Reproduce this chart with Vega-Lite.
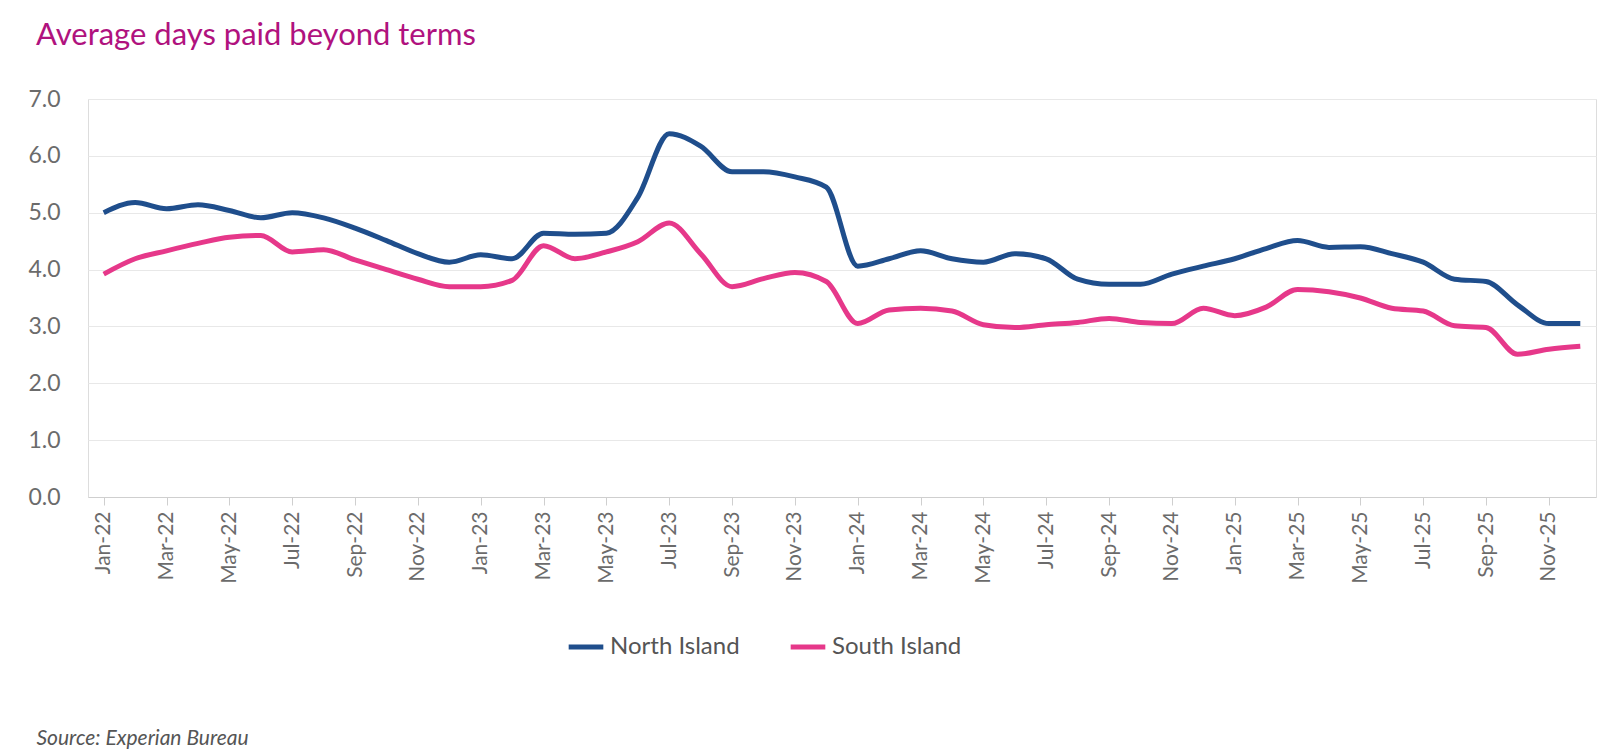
{
"$schema":"https://vega.github.io/schema/vega-lite/v6.json",
"width":1508,"height":398,
"autosize":{"type":"none"},
"padding":{"left":88,"top":99,"right":10,"bottom":253},
"background":"white",
"title":{"text":"Average days paid beyond terms","anchor":"start","frame":"group","dx":-52,"offset":36,"fontSize":31,"font":"Lato","fontWeight":"normal","color":"#B0127E"},
"data":{"values":[
{"m":"Jan-22","N":5.0,"S":3.92},{"m":"Feb-22","N":5.18,"S":4.19},{"m":"Mar-22","N":5.07,"S":4.33},{"m":"Apr-22","N":5.14,"S":4.46},{"m":"May-22","N":5.04,"S":4.57},{"m":"Jun-22","N":4.91,"S":4.6},{"m":"Jul-22","N":5.0,"S":4.31},{"m":"Aug-22","N":4.91,"S":4.35},{"m":"Sep-22","N":4.73,"S":4.17},{"m":"Oct-22","N":4.51,"S":4.0},{"m":"Nov-22","N":4.28,"S":3.83},{"m":"Dec-22","N":4.13,"S":3.7},
{"m":"Jan-23","N":4.26,"S":3.7},{"m":"Feb-23","N":4.19,"S":3.81},{"m":"Mar-23","N":4.64,"S":4.42},{"m":"Apr-23","N":4.62,"S":4.19},{"m":"May-23","N":4.64,"S":4.31},{"m":"Jun-23","N":5.27,"S":4.49},{"m":"Jul-23","N":6.39,"S":4.82},{"m":"Aug-23","N":6.17,"S":4.28},{"m":"Sep-23","N":5.72,"S":3.7},{"m":"Oct-23","N":5.72,"S":3.84},{"m":"Nov-23","N":5.63,"S":3.95},{"m":"Dec-23","N":5.45,"S":3.79},
{"m":"Jan-24","N":4.06,"S":3.05},{"m":"Feb-24","N":4.19,"S":3.29},{"m":"Mar-24","N":4.33,"S":3.32},{"m":"Apr-24","N":4.19,"S":3.27},{"m":"May-24","N":4.13,"S":3.03},{"m":"Jun-24","N":4.28,"S":2.98},{"m":"Jul-24","N":4.19,"S":3.03},{"m":"Aug-24","N":3.83,"S":3.07},{"m":"Sep-24","N":3.74,"S":3.14},{"m":"Oct-24","N":3.74,"S":3.07},{"m":"Nov-24","N":3.92,"S":3.05},{"m":"Dec-24","N":4.06,"S":3.32},
{"m":"Jan-25","N":4.19,"S":3.19},{"m":"Feb-25","N":4.37,"S":3.34},{"m":"Mar-25","N":4.51,"S":3.65},{"m":"Apr-25","N":4.39,"S":3.61},{"m":"May-25","N":4.4,"S":3.5},{"m":"Jun-25","N":4.28,"S":3.32},{"m":"Jul-25","N":4.13,"S":3.27},{"m":"Aug-25","N":3.83,"S":3.01},{"m":"Sep-25","N":3.79,"S":2.98},{"m":"Oct-25","N":3.38,"S":2.51},{"m":"Nov-25","N":3.05,"S":2.6},{"m":"Dec-25","N":3.05,"S":2.65}
]},
"transform":[{"fold":["N","S"],"as":["k","v"]},{"calculate":"datum.k=='N'?'North Island':'South Island'","as":"series"}],
"mark":{"type":"line","interpolate":"monotone","strokeWidth":5},
"encoding":{
"x":{"field":"m","type":"ordinal","sort":null,"scale":{"type":"point","padding":0.5},
"axis":{"values":["Jan-22","Mar-22","May-22","Jul-22","Sep-22","Nov-22","Jan-23","Mar-23","May-23","Jul-23","Sep-23","Nov-23","Jan-24","Mar-24","May-24","Jul-24","Sep-24","Nov-24","Jan-25","Mar-25","May-25","Jul-25","Sep-25","Nov-25"],
"labelAngle":-90,"labelFontSize":21,"labelFont":"Lato","labelColor":"#6b6b6b","labelPadding":6,"domainColor":"#cfcfcf","tickColor":"#cfcfcf","tickSize":8,"grid":false,
"title":"Source: Experian Bureau","titleX":-52,"titleY":230,"titleAlign":"left","titleFontSize":21,"titleFont":"Lato","titleFontStyle":"italic","titleFontWeight":"normal","titleColor":"#555"}},
"y":{"field":"v","type":"quantitative","scale":{"domain":[0,7]},
"axis":{"values":[0,1,2,3,4,5,6,7],"format":".1f","title":null,"labelFontSize":23,"labelFont":"Lato","labelColor":"#6b6b6b","domain":false,"ticks":false,"labelPadding":28,"gridColor":"#e8e8e8"}},
"color":{"field":"series","type":"nominal","scale":{"domain":["North Island","South Island"],"range":["#1F4E8C","#E6388A"]},
"legend":{"title":null,"orient":"none","direction":"horizontal","legendX":478,"legendY":528,"symbolType":"stroke","symbolSize":1200,"symbolStrokeWidth":5,"labelFontSize":24,"labelFont":"Lato","labelColor":"#555","columnPadding":40,"labelOffset":4}}
}
}
